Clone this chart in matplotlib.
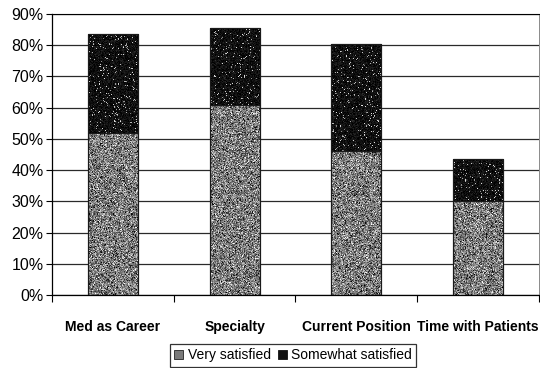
import numpy as np
import matplotlib
matplotlib.use('Agg')
import matplotlib.pyplot as plt
from matplotlib.patches import Patch
from matplotlib.ticker import PercentFormatter

categories = ['Med as Career', 'Specialty', 'Current Position', 'Time with Patients']
very_satisfied = [52, 61, 46, 30]
somewhat_satisfied = [31.5, 24.5, 34.5, 13.5]

plt.rcParams['font.family'] = ['Liberation Sans', 'DejaVu Sans']

fig = plt.figure(figsize=(5.4, 3.68), dpi=100)
ax = fig.add_axes([0.0963, 0.1984, 0.9017, 0.7636])

x = np.arange(len(categories))
w = 0.41
rng = np.random.default_rng(3)

def grain(bars, base, spread, speck, zorder):
    # speckled fill, clipped to each bar
    for p in bars.patches:
        x0, y0 = p.get_x(), p.get_y()
        x1, y1 = x0 + p.get_width(), y0 + p.get_height()
        h = max(int(p.get_height() * 3.12), 2)
        tex = np.clip(rng.normal(base, spread, (h, 50)), 0, 1)
        if speck:
            mask = rng.random((h, 50)) < speck
            tex[mask] = rng.uniform(0.5, 0.9, mask.sum())
        im = ax.imshow(tex, extent=(x0, x1, y0, y1), aspect='auto', cmap='gray',
                       vmin=0, vmax=1, interpolation='nearest', zorder=zorder)
        im.set_clip_path(p)

b1 = ax.bar(x, very_satisfied, w, color='#7a7a7a', edgecolor='#222222', lw=0.8, zorder=2)
b2 = ax.bar(x, somewhat_satisfied, w, bottom=very_satisfied, color='#111111',
            edgecolor='#111111', lw=0.8, zorder=2)
grain(b1, 0.48, 0.2, 0, 2.5)
grain(b2, 0.06, 0.05, 0.05, 2.5)
for p in list(b1.patches) + list(b2.patches):
    ax.add_patch(plt.Rectangle((p.get_x(), p.get_y()), p.get_width(), p.get_height(),
                               fill=False, edgecolor='#1a1a1a', lw=0.8, zorder=3))

ax.set_xlim(-0.5, 3.5)
ax.set_ylim(0, 90)
ax.set_yticks(np.arange(0, 91, 10))
ax.yaxis.set_major_formatter(PercentFormatter(decimals=0))
ax.set_xticks(x)
ax.set_xticklabels(categories, fontweight='bold', fontsize=10)
ax.set_xticks(np.arange(-0.5, 4, 1), minor=True)
ax.tick_params(axis='x', which='major', length=0, pad=18)
ax.tick_params(axis='x', which='minor', length=5, width=0.8, direction='out')
ax.tick_params(axis='y', length=4, width=0.8, labelsize=11.5, pad=2)

ax.grid(axis='y', color='#2a2a2a', lw=0.9, zorder=1)
ax.set_axisbelow(True)
ax.spines['top'].set_linestyle((0, (1, 1)))
ax.spines['top'].set_linewidth(0.8)
ax.spines['right'].set_color('#777777')
ax.spines['right'].set_linewidth(0.6)
ax.spines['left'].set_linewidth(0.9)
ax.spines['bottom'].set_linewidth(0.9)

handles = [Patch(facecolor='#7a7a7a', edgecolor='#222222', lw=0.6),
           Patch(facecolor='#111111', edgecolor='#111111', lw=0.6)]
leg = fig.legend(handles, ['Very satisfied', 'Somewhat satisfied'], loc='lower center',
                 bbox_to_anchor=(293 / 540, 0.0), ncol=2, fontsize=10, frameon=True,
                 fancybox=False, edgecolor='black', handlelength=0.7, handleheight=0.7,
                 handletextpad=0.3, columnspacing=0.5, borderpad=0.3, borderaxespad=0.1)
leg.get_frame().set_linewidth(0.9)

fig.savefig('out.png', dpi=100)
